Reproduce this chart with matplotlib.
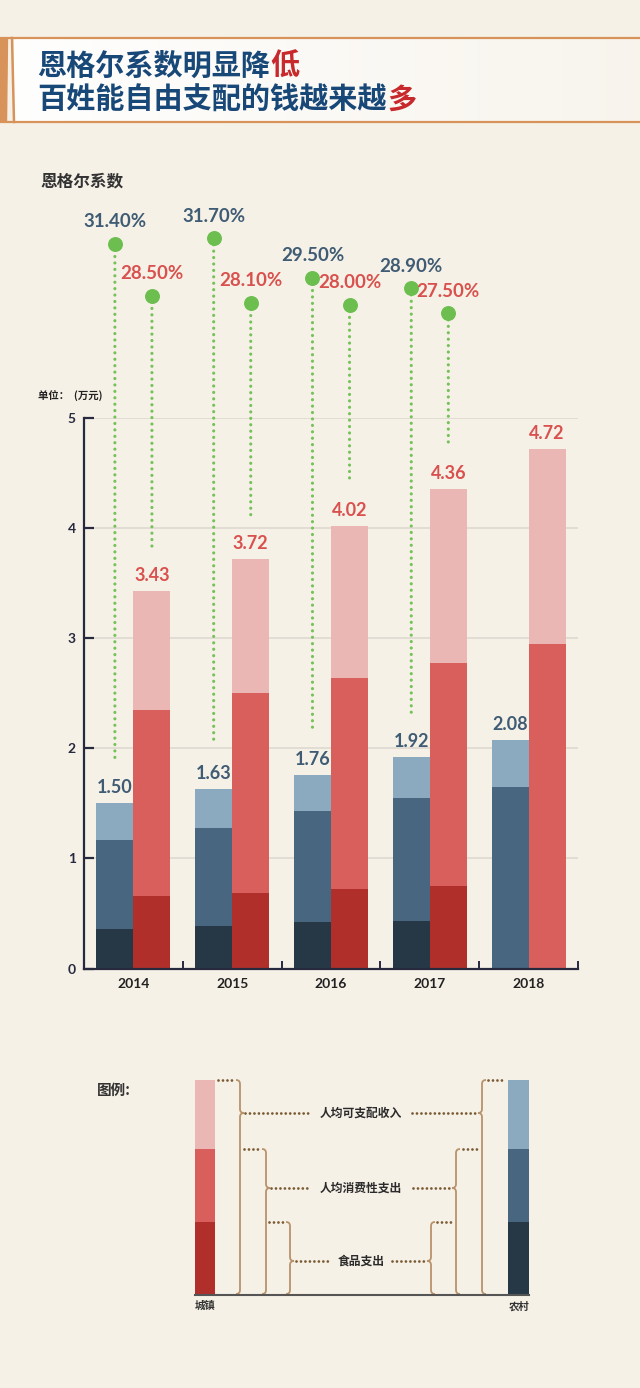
import numpy as np
import matplotlib.pyplot as plt
from matplotlib.patches import ConnectionPatch, Rectangle, Polygon, PathPatch
from matplotlib.path import Path

plt.rcParams['font.family'] = ['Noto Sans CJK SC', 'DejaVu Sans']
num_font = ['Lato', 'DejaVu Sans']

# data (万元 / %)
years = ['2014', '2015', '2016', '2017', '2018']
urban_income = [3.43, 3.72, 4.02, 4.36, 4.72]
urban_spend = [2.35, 2.50, 2.64, 2.78, 2.95]
urban_food = [0.66, 0.69, 0.72, 0.75, 0]
rural_income = [1.50, 1.63, 1.76, 1.92, 2.08]
rural_spend = [1.17, 1.28, 1.43, 1.55, 1.65]
rural_food = [0.36, 0.39, 0.42, 0.43, 0]
engel_rural = [31.4, 31.7, 29.5, 28.9]
engel_urban = [28.5, 28.1, 28.0, 27.5]
legend_labels = ['人均可支配收入', '人均消费性支出', '食品支出']

# colours
bg_col = '#f6f1e7'
u_cols = ['#ebb7b4', '#d95f5c', '#b02f2b']
r_cols = ['#8ba9bf', '#486680', '#263846']
blue_txt = '#3f5c74'
red_txt = '#d9514e'
green = '#6cbf4f'
navy = '#272a3f'
orange = '#d8935a'
title_blue = '#184878'
title_red = '#c8292c'

W, H = 640, 1388
fig = plt.figure(figsize=(6.4, 13.88), dpi=100, facecolor=bg_col)

# background / decoration layer in pixel coords
bg = fig.add_axes([0, 0, 1, 1])
bg.axis('off')
grad = np.ones((1, 200, 4))
grad[0, :, 3] = np.linspace(0.95, 0.25, 200)
bg.imshow(grad, extent=(14, 640, 122, 38), aspect='auto', zorder=1)
bg.set_xlim(0, W)
bg.set_ylim(H, 0)
bg.plot([0, 640], [38, 38], color=orange, lw=1.6, zorder=2)
bg.plot([0, 640], [122, 122], color=orange, lw=1.6, zorder=2)
bg.add_patch(Polygon([(0, 38), (7.5, 38), (6.5, 122), (0, 122)], color=orange, zorder=2))
bg.plot([12, 14], [38, 122], color=orange, lw=1.8, zorder=2)

em = 21 * 100 / 72
bg.text(37, 66, '恩格尔系数明显降', fontsize=21, fontweight='heavy', color=title_blue, va='center', zorder=3)
bg.text(37 + 8 * em, 66, '低', fontsize=21, fontweight='heavy', color=title_red, va='center', zorder=3)
bg.text(37, 100, '百姓能自由支配的钱越来越', fontsize=21, fontweight='heavy', color=title_blue, va='center', zorder=3)
bg.text(37 + 12 * em, 100, '多', fontsize=21, fontweight='heavy', color=title_red, va='center', zorder=3)

bg.text(40, 181, '恩格尔系数', fontsize=12, fontweight='bold', color='#333333', va='center')
bg.text(38, 396, '单位：  (万元)', fontsize=7.5, fontweight='bold', color='#222222', va='center')

# bar chart
ax = fig.add_axes([84 / W, 1 - 968.5 / H, 494 / W, 550.2 / H])
ax.patch.set_alpha(0)
ax.set_xlim(-0.5, 4.5)
ax.set_ylim(0, 5)
x = np.arange(len(years))
bw = 0.375
xr = x - bw / 2
xu = x + bw / 2
for vals, col in zip([rural_income, rural_spend, rural_food], r_cols):
    ax.bar(xr, vals, bw, color=col, zorder=2)
for vals, col in zip([urban_income, urban_spend, urban_food], u_cols):
    ax.bar(xu, vals, bw, color=col, zorder=2)

for xi, v in zip(xr, rural_income):
    ax.annotate(f'{v:.2f}', (xi, v), xytext=(0, 5), textcoords='offset points',
                ha='center', va='bottom', color=blue_txt, fontsize=13,
                fontweight='bold', family=num_font)
for xi, v in zip(xu, urban_income):
    ax.annotate(f'{v:.2f}', (xi, v), xytext=(0, 5), textcoords='offset points',
                ha='center', va='bottom', color=red_txt, fontsize=13,
                fontweight='bold', family=num_font)

ax.spines[['top', 'right']].set_visible(False)
for s in ['left', 'bottom']:
    ax.spines[s].set_color(navy)
    ax.spines[s].set_linewidth(1.6)
ax.set_yticks(range(6))
ax.set_yticklabels([str(i) for i in range(6)], fontweight='bold', family=num_font)
ax.tick_params(axis='y', direction='in', length=7, width=1.6, color=navy,
               labelcolor=navy, labelsize=10, pad=6)
ax.set_xticks(x, years, fontweight='bold', family=num_font)
ax.tick_params(axis='x', length=0, pad=7, labelsize=10, labelcolor='#222222')
ax.set_xticks(np.arange(0.5, 5, 1), minor=True)
ax.tick_params(axis='x', which='minor', direction='in', length=6, width=1.4, color=navy)
ax.yaxis.grid(True, color='#dedad1', lw=1.2)
ax.set_axisbelow(True)

# engel coefficient dots
ax2 = fig.add_axes([84 / W, 1 - 322.43 / H, 494 / W, 98.45 / H])
ax2.axis('off')
ax2.set_xlim(-0.5, 4.5)
ax2.set_ylim(27, 32.5)
n = len(engel_rural)
for xs, es, inc, tc in [(xr[:n], engel_rural, rural_income, blue_txt),
                        (xu[:n], engel_urban, urban_income, red_txt)]:
    ax2.scatter(xs, es, s=95, color=green, zorder=3, clip_on=False)
    for xi, e, v in zip(xs, es, inc):
        ax2.annotate(f'{e:.2f}%', (xi, e), xytext=(0, 16), textcoords='offset points',
                     ha='center', va='center', color=tc, fontsize=13.5,
                     fontweight='bold', family=num_font)
        con = ConnectionPatch(xyA=(xi, e), coordsA=ax2.transData,
                              xyB=(xi, v + 0.4), coordsB=ax.transData,
                              color='#76c25a', lw=2.3, linestyle=(0, (0.01, 2.0)),
                              capstyle='round', zorder=1)
        ax2.add_artist(con)

# legend
bg.text(97, 1090, '图例:', fontsize=10.5, fontweight='bold', color='#333333', va='center')
seg = [1080, 1149, 1222, 1294]
for i in range(3):
    bg.add_patch(Rectangle((195, seg[i]), 20, seg[i + 1] - seg[i], color=u_cols[i], lw=0))
    bg.add_patch(Rectangle((508, seg[i]), 21, seg[i + 1] - seg[i], color=r_cols[i], lw=0))
bg.plot([195, 529], [1295, 1295], color='#555555', lw=1.5)
bg.text(205, 1306, '城镇', fontsize=7.5, fontweight='bold', color='#333333', ha='center', va='center')
bg.text(519, 1306, '农村', fontsize=7.5, fontweight='bold', color='#333333', ha='center', va='center')

brace_col = '#b8926a'
dot_col = '#7a5a32'


def brace(xb, top, tip, bot, s, r=4):
    verts = [(xb - s * r, top), (xb, top), (xb, top + r),
             (xb, tip - r), (xb, tip), (xb + s * r, tip),
             (xb, tip), (xb, tip + r),
             (xb, bot - r), (xb, bot), (xb - s * r, bot)]
    codes = [Path.MOVETO, Path.CURVE3, Path.CURVE3, Path.LINETO,
             Path.CURVE3, Path.CURVE3, Path.CURVE3, Path.CURVE3,
             Path.LINETO, Path.CURVE3, Path.CURVE3]
    bg.add_patch(PathPatch(Path(verts, codes), fill=False, ec=brace_col, lw=1.3))


def dots(x0, x1, y):
    bg.plot([x0, x1], [y, y], color=dot_col, lw=2, ls=(0, (0.01, 1.6)),
            dash_capstyle='round')


tips = [1113, 1188, 1261]
left_x = [240, 266, 290]
right_x = [482, 456, 431]
top_left = [(218, 235), (244, 261), (269, 286)]
top_right = [(488, 505), (463, 480), (437, 453)]
mid_left = [(245, 310), (271, 308), (296, 331)]
mid_right = [(412, 477), (413, 451), (392, 427)]
for i in range(3):
    brace(left_x[i], seg[i], tips[i], 1294, 1)
    brace(right_x[i], seg[i], tips[i], 1294, -1)
    dots(*top_left[i], seg[i])
    dots(*top_right[i], seg[i])
    dots(*mid_left[i], tips[i])
    dots(*mid_right[i], tips[i])
    bg.text(361, tips[i], legend_labels[i], fontsize=8.5, fontweight='bold',
            color='#2b2b2b', ha='center', va='center')

fig.savefig('out.png', dpi=100, facecolor=bg_col)
